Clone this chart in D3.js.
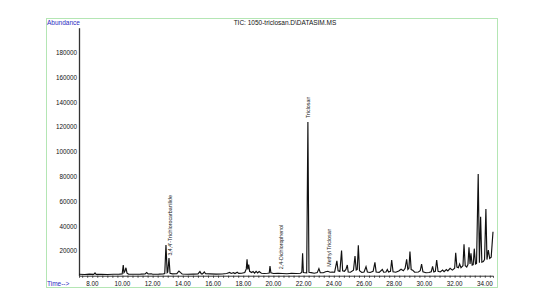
<!doctype html>
<html>
<head>
<meta charset="UTF-8">
<script src="https://d3js.org/d3.v7.min.js"></script>
<style>
  body { margin: 0; background: #fff; }
  text { font-family: "Liberation Sans", Arial, sans-serif; }
</style>
</head>
<body>
<div id="tic"></div>
<script>
// TIC trace (retention time in min, abundance)
var traceTime = [7.12, 7.5, 7.8, 8.1, 8.18, 8.25, 8.6, 9.0, 9.4, 9.8,
  9.98, 10.05, 10.1, 10.16, 10.23, 10.3, 10.4, 10.8, 11.2, 11.5, 11.6, 11.7, 11.9, 12.0, 12.4, 12.7,
  12.8, 12.88, 12.96, 13.0, 13.08, 13.15, 13.3, 13.6, 13.74, 13.85, 13.95, 14.3, 14.7, 15.0, 15.13,
  15.22, 15.3, 15.42, 15.5, 15.8, 16.2, 16.6, 16.9, 17.1, 17.2, 17.35, 17.45, 17.6, 17.7, 17.9, 18.1,
  18.2, 18.25, 18.3, 18.36, 18.42, 18.55, 18.65, 18.75, 18.85, 18.95, 19.05, 19.2, 19.4, 19.6, 19.72,
  19.77, 19.83, 20.0, 20.3, 20.6, 20.9, 21.2, 21.5, 21.8, 21.88, 21.93, 21.98, 22.2, 22.28, 22.35,
  22.5, 22.7, 22.9, 23.01, 23.1, 23.3, 23.45, 23.6, 23.75, 23.9, 24.05, 24.2, 24.28, 24.4, 24.51,
  24.58, 24.7, 24.8, 24.89, 24.95, 25.1, 25.3, 25.4, 25.48, 25.55, 25.62, 25.7, 25.85, 26.0, 26.13,
  26.22, 26.4, 26.6, 26.72, 26.8, 27.0, 27.21, 27.3, 27.45, 27.54, 27.62, 27.75, 27.83, 27.92, 28.1,
  28.3, 28.45, 28.6, 28.72, 28.82, 28.9, 28.97, 29.04, 29.12, 29.22, 29.35, 29.6, 29.72, 29.81, 29.9,
  30.1, 30.3, 30.45, 30.54, 30.62, 30.72, 30.81, 30.9, 31.05, 31.2, 31.3, 31.45, 31.55, 31.7, 31.85,
  32.0, 32.07, 32.15, 32.25, 32.33, 32.42, 32.55, 32.62, 32.7, 32.8, 32.88, 32.95, 33.02, 33.08,
  33.16, 33.23, 33.3, 33.38, 33.45, 33.56, 33.64, 33.72, 33.8, 33.9, 33.98, 34.07, 34.14, 34.23,
  34.32, 34.42, 34.54];
var traceAbund = [1200, 1000, 1300, 1100, 2200, 1100, 1200, 1000, 1200, 1300,
  1400, 8600, 2500, 3500, 6400, 2000, 1300, 1200, 1300, 1500, 2600, 1400, 1600, 1200, 1300, 1500,
  1800, 24800, 2500, 3000, 14300, 2000, 1500, 1600, 3800, 2500, 1400, 1200, 1300, 1400, 3300,
  1500, 1500, 3000, 1600, 1500, 1300, 1400, 1800, 2600, 1800, 2400, 1700, 2800, 1900, 2000, 2600,
  5500, 13200, 5000, 9000, 3500, 2500, 3300, 2000, 3500, 2200, 3300, 2000, 1800, 2000, 2200,
  7800, 2300, 1800, 2000, 1800, 1600, 2000, 1800, 2000, 3000, 18000, 2500, 2200, 124000, 2800,
  2500, 2000, 2500, 5700, 2500, 2400, 3200, 3600, 2800, 3000, 2800, 12000, 4000, 3500, 20200,
  4000, 3600, 5000, 8600, 3000, 2800, 4500, 15900, 4500, 5000, 24500, 4000, 2600, 3000, 7300,
  3000, 2600, 3500, 10800, 3000, 2700, 5000, 2800, 3000, 5000, 3000, 3500, 12700, 3200, 2800,
  3800, 5200, 4000, 6000, 13200, 5000, 6000, 19400, 5000, 4500, 2800, 3000, 4000, 9400, 3200,
  2400, 2600, 3200, 7500, 3000, 3500, 12700, 3500, 3000, 4500, 3200, 5000, 3800, 6000, 4500,
  6000, 18500, 7000, 6500, 9500, 6500, 8000, 25300, 8000, 7000, 9000, 22900, 9500, 18000,
  8500, 9000, 21800, 9500, 10000, 82000, 10500, 47600, 11000, 11500, 13000, 53800, 13000, 20700,
  14000, 15000, 35500];

var peakNames = ["3,4,4'-Trichlorocarbanilide", "2,4-Dichlorophenol", "Triclosan", "Methyl Triclosan"];
var peakTimes = [13.13, 20.48, 22.28, 23.66];
var peakTops = [13000, 2000, 124000, 4000];

var yTicks = [20000, 40000, 60000, 80000, 100000, 120000, 140000, 160000, 180000];
var xTicks = [8, 10, 12, 14, 16, 18, 20, 22, 24, 26, 28, 30, 32, 34];

var W = 547, H = 297;
var svg = d3.select("#tic").append("svg").attr("width", W).attr("height", H);

// green frame
svg.append("rect")
  .attr("x", 46.5).attr("y", 18.5).attr("width", 451).attr("height", 269)
  .attr("fill", "#fff").attr("stroke", "#b4e6b4").attr("stroke-width", 1);

var x = d3.scaleLinear().domain([7.12, 34.54]).range([79, 493]);
var y = d3.scaleLinear().domain([0, 200000]).range([275.7, 27.7]);

// y axis
var ya = svg.append("g").attr("transform", "translate(79,0)")
  .call(d3.axisLeft(y).tickValues(yTicks).tickSize(0).tickPadding(2).tickFormat(d3.format("d")));
ya.select(".domain").attr("stroke", "#333").attr("stroke-width", 1.3);
ya.selectAll("text").attr("font-size", "6.3px").attr("fill", "#111").attr("font-family", null);

// x axis, minor ticks then labels
var xa = svg.append("g").attr("transform", "translate(0,275.7)")
  .call(d3.axisBottom(x).tickValues(d3.range(7.33, 34.5, 1 / 3)).tickSize(2).tickFormat(""));
xa.select(".domain").attr("stroke", "#333").attr("stroke-width", 1);
xa.selectAll(".tick line").attr("stroke", "#333");
svg.append("g").selectAll("text")
  .data(xTicks)
  .enter()
  .append("text")
    .attr("x", d => x(d))
    .attr("y", 286)
    .attr("text-anchor", "middle")
    .attr("font-size", "6.3px")
    .attr("fill", "#111")
    .text(d => d.toFixed(2));

// trace
var line = d3.line().x(i => x(traceTime[i])).y(i => y(traceAbund[i]));
svg.append("path")
  .attr("d", line(d3.range(traceTime.length)))
  .attr("fill", "none")
  .attr("stroke", "#111")
  .attr("stroke-width", 1.15)
  .attr("stroke-linejoin", "miter");

// peak labels, rotated
svg.append("g").selectAll("text")
  .data(d3.range(peakNames.length))
  .enter()
  .append("text")
    .attr("transform", i => "translate(" + (x(peakTimes[i]) + 1.8) + "," + (y(peakTops[i]) - 4) + ") rotate(-90)")
    .attr("font-size", "5.3px")
    .attr("fill", "#222")
    .text(i => peakNames[i]);

// header / footer labels
svg.append("text").attr("x", 47).attr("y", 25).attr("font-size", "6.5px").attr("fill", "#2b2bbf").text("Abundance");
svg.append("text").attr("x", 285).attr("y", 25).attr("text-anchor", "middle").attr("font-size", "6.5px").attr("fill", "#111")
  .text("TIC: 1050-triclosan.D\\DATASIM.MS");
svg.append("text").attr("x", 47).attr("y", 285.5).attr("font-size", "6.5px").attr("fill", "#2b2bbf").text("Time-->");
</script>
</body>
</html>
